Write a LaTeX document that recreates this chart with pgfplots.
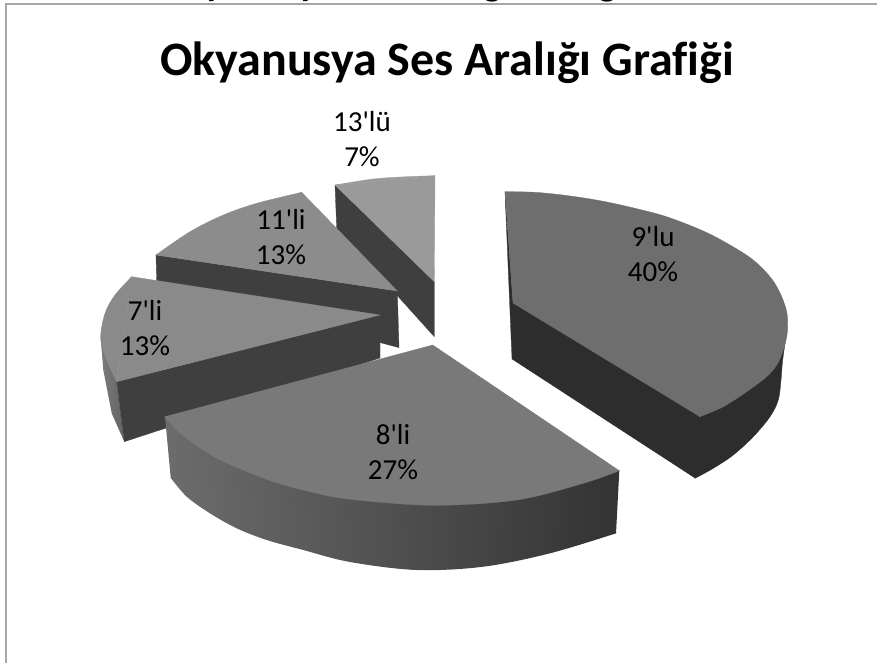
\documentclass[border=0pt]{standalone}
\usepackage{pgfplots}
\pgfplotsset{compat=1.18}
\usepackage{fontspec}
\newfontfamily\cali{Carlito}[Ligatures=NoCommon]
\definecolor{frame}{HTML}{A6A6A6}
\definecolor{tNine}{HTML}{6E6E6E}
\definecolor{dNine}{HTML}{2D2D2D}
\definecolor{tEight}{HTML}{797979}
\definecolor{sEightL}{HTML}{6C6C6C}
\definecolor{sEightR}{HTML}{333333}
\definecolor{tSeven}{HTML}{8A8A8A}
\definecolor{dGrey}{HTML}{3F3F3F}
\definecolor{sSevenL}{HTML}{7C7C7C}
\definecolor{sSevenR}{HTML}{626262}
\definecolor{tEleven}{HTML}{8C8C8C}
\definecolor{tThirteen}{HTML}{9A9A9A}
\pgfplotsset{
  solid/.style={draw=#1,fill=#1,line width=0.3pt,no marks},
  arc/.style={draw=#1,fill=#1,line width=0.3pt,no marks,smooth,tension=0.55}
}
\begin{document}
\begin{tikzpicture}
\useasboundingbox (0,0) rectangle (877pt,663pt);
\clip (0,0) rectangle (877pt,663pt);
\begin{axis}[at={(0,0)},anchor=south west,scale only axis,width=877pt,height=663pt,
  xmin=0,xmax=877,ymin=0,ymax=663,y dir=reverse,hide axis,clip=false]
% frame
\addplot[frame,line width=1.5pt,no marks] coordinates {(5.8,663) (5.8,4) (877,4)};
% 13'lu
\addplot[solid=dGrey] coordinates {(335,185) (336.7,228.3) (434.3,336.7) (434.3,281.7)} --cycle;
\addplot[solid=tThirteen] coordinates {(335,185) (434.3,281.7) (435,175.7)} --cycle;
\addplot[arc=tThirteen] coordinates {(335,185) (373,179) (406.7,176.7) (435,175.7)} --cycle;
% 11'li
\addplot[solid=dGrey] coordinates {(156,255) (156.7,281.7) (399,347.7) (397.3,291)} --cycle;
\addplot[solid=tEleven] coordinates {(301.7,192.3) (397.3,291) (156,255)} --cycle;
\addplot[arc=tEleven] coordinates {(301.7,192.3) (256.7,203.3) (223.3,215) (190,231.7) (156,255)} --cycle;
% 7'li
\addplot[draw=none,left color=sSevenL,right color=sSevenR,no marks] coordinates {(100.7,338.3) (103.3,370) (111.7,413.3) (124.3,441.7) (116.7,381.7) (106.7,360)} --cycle;
\addplot[solid=dGrey] coordinates {(116.7,381.7) (124.3,441.7) (380,358) (380,315)} --cycle;
\addplot[solid=tSeven] coordinates {(131.7,276.7) (380,315) (116.7,381.7)} --cycle;
\addplot[arc=tSeven] coordinates {(131.7,276.7) (115,295) (105,313.3) (100.7,338.3) (106.7,360) (116.7,381.7)} --cycle;
% 9'lu
\addplot[arc=dNine] coordinates {(787,330) (782.7,360) (781,380) (778.3,400) (770,416.7) (753.3,436.7) (733.3,455) (713.3,468.3) (695,478.3)} --cycle;
\addplot[solid=dNine] coordinates {(505,192) (512,359) (695,478) (755,415) (775,370) (787,330) (513,303)} --cycle;
\addplot[solid=tNine] coordinates {(513,303) (505,191.7) (700,416.7)} --cycle;
\addplot[arc=tNine] coordinates {(505,191.7) (535,192.3) (568.3,195.7) (601.7,201) (635,208.3) (668.3,217.3) (708.3,233.3) (743.3,253) (760,266) (773.3,281) (781.7,296.7) (786.7,311.7) (787.7,325) (786.7,336.7) (783,351) (776.7,365) (766.7,376.7) (746.7,391.7) (723.3,406.7) (700,416.7)} --cycle;
% 8'li
\addplot[draw=none,left color=sEightL,right color=sEightR,no marks,smooth,tension=0.55] coordinates {(170.7,477.7) (186.7,496.7) (210,513.3) (236.7,528.3) (266.7,540) (303.3,550) (350,562) (416.7,570) (483.3,566.7) (550,553.3) (616,533.3)} --cycle;
\addplot[draw=none,left color=sEightL,right color=sEightR,no marks] coordinates {(165,416.7) (170.7,477.7) (400,530) (616,533.3) (619.3,470.7)} --cycle;
\addplot[solid=tEight] coordinates {(432.7,345) (165,416.7) (619.3,470.7)} --cycle;
\addplot[arc=tEight] coordinates {(165,416.7) (176.7,430) (193.3,443.3) (216.7,458.3) (243.3,470) (273.3,481.7) (310,491.7) (350,499.3) (433.3,505.3) (516.7,500) (583.3,483.3) (619.3,470.7)} --cycle;
% clipped upper title
\node[font=\cali\fontsize{39}{46}\selectfont\bfseries,anchor=base west] at (axis cs:157,-4) {Okyanusya Ses Aralığı Grafiği};
% title
\node[font=\cali\fontsize{48}{56}\selectfont\bfseries,anchor=base] at (axis cs:447,76) {Okyanusya Ses Aralığı Grafiği};
% labels
\node[font=\cali\fontsize{29}{35}\selectfont,align=center] at (axis cs:362,139) {13'lü\\7\%};
\node[font=\cali\fontsize{29}{35}\selectfont,align=center] at (axis cs:281,237) {11'li\\13\%};
\node[font=\cali\fontsize{29}{35}\selectfont,align=center] at (axis cs:145,328) {7'li\\13\%};
\node[font=\cali\fontsize{29}{35}\selectfont,align=center] at (axis cs:653,254) {9'lu\\40\%};
\node[font=\cali\fontsize{29}{35}\selectfont,align=center] at (axis cs:393,452) {8'li\\27\%};
\end{axis}
\end{tikzpicture}
\end{document}
